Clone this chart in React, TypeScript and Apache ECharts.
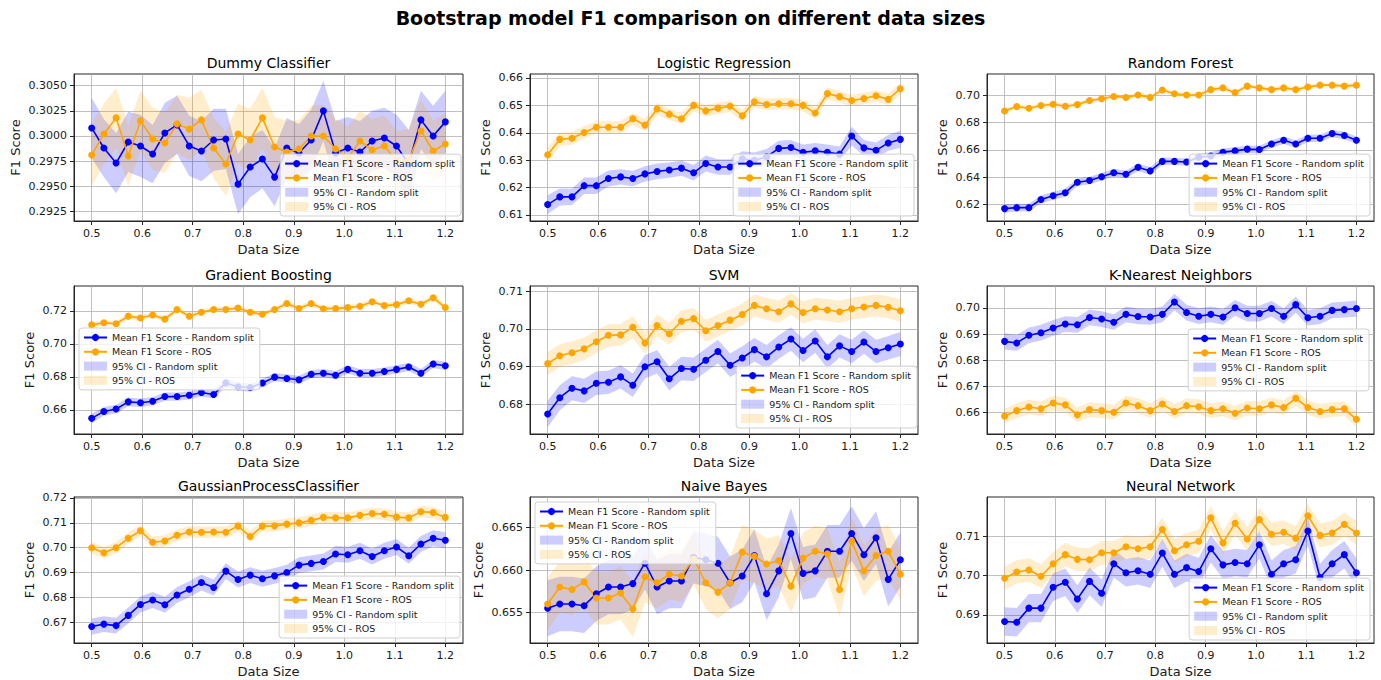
import React, { useEffect, useRef } from 'react';
import * as echarts from 'echarts';

const dataSizes = [0.5, 0.5241, 0.5483, 0.5724, 0.5966, 0.6207, 0.6448, 0.669, 0.6931, 0.7172, 0.7414, 0.7655, 0.7897, 0.8138, 0.8379, 0.8621, 0.8862, 0.9103, 0.9345, 0.9586, 0.9828, 1.0069, 1.031, 1.0552, 1.0793, 1.1034, 1.1276, 1.1517, 1.1759, 1.2];
const xTicks = [0.5, 0.6, 0.7, 0.8, 0.9, 1.0, 1.1, 1.2];

// Dummy Classifier
const dummyRand = [0.3008,0.2988,0.2973,0.2994,0.2990,0.2982,0.3003,0.3011,0.2990,0.2985,0.2996,0.2997,0.2952,0.2969,0.2977,0.2959,0.2988,0.2983,0.2996,0.3025,0.2983,0.2988,0.2984,0.2995,0.2998,0.2990,0.2972,0.3016,0.3000,0.3014];
const dummyRandCI = [0.0030,0.0029,0.0030,0.0030,0.0031,0.0029,0.0030,0.0029,0.0030,0.0030,0.0031,0.0030,0.0030,0.0030,0.0029,0.0029,0.0030,0.0029,0.0030,0.0030,0.0032,0.0031,0.0031,0.0030,0.0030,0.0031,0.0034,0.0029,0.0030,0.0031];
const dummyRos = [0.2981,0.3002,0.3018,0.2980,0.3015,0.2997,0.2993,0.3012,0.3007,0.3016,0.2988,0.2972,0.3002,0.2996,0.3018,0.2989,0.2984,0.2987,0.3000,0.3000,0.2987,0.2978,0.2995,0.2986,0.2990,0.2975,0.2976,0.3005,0.2985,0.2992];
const dummyRosCI = [0.0031,0.0030,0.0030,0.0030,0.0030,0.0031,0.0030,0.0029,0.0031,0.0030,0.0030,0.0032,0.0030,0.0031,0.0030,0.0030,0.0031,0.0029,0.0030,0.0031,0.0030,0.0031,0.0030,0.0031,0.0030,0.0030,0.0031,0.0031,0.0030,0.0031];
const dummyTicks = [0.2925, 0.2950, 0.2975, 0.3000, 0.3025, 0.3050];

// Logistic Regression
const lrRand = [0.6138,0.6166,0.6166,0.6207,0.6207,0.6233,0.6239,0.6233,0.6250,0.6259,0.6264,0.6271,0.6254,0.6288,0.6275,0.6275,0.6305,0.6300,0.6312,0.6343,0.6346,0.6329,0.6334,0.6329,0.6322,0.6388,0.6345,0.6336,0.6363,0.6376];
const lrRandCI = [0.0034,0.0031,0.0030,0.0030,0.0030,0.0029,0.0028,0.0028,0.0028,0.0029,0.0028,0.0028,0.0028,0.0029,0.0028,0.0028,0.0028,0.0028,0.0029,0.0028,0.0028,0.0028,0.0029,0.0028,0.0028,0.0034,0.0029,0.0029,0.0029,0.0031];
const lrRos = [0.6320,0.6376,0.6380,0.6401,0.6420,0.6420,0.6420,0.6451,0.6428,0.6487,0.6468,0.6451,0.6500,0.6480,0.6490,0.6497,0.6462,0.6513,0.6503,0.6506,0.6506,0.6500,0.6472,0.6543,0.6532,0.6518,0.6525,0.6535,0.6522,0.6561];
const lrRosCI = [0.0026,0.0025,0.0024,0.0023,0.0022,0.0022,0.0022,0.0022,0.0022,0.0022,0.0021,0.0021,0.0021,0.0021,0.0021,0.0021,0.0021,0.0022,0.0021,0.0021,0.0021,0.0021,0.0021,0.0022,0.0021,0.0021,0.0021,0.0021,0.0021,0.0022];
const lrTicks = [0.61, 0.62, 0.63, 0.64, 0.65, 0.66];

// Random Forest
const rfRand = [0.6168,0.6175,0.6175,0.6235,0.6262,0.6285,0.6362,0.6375,0.6402,0.6432,0.6420,0.6472,0.6445,0.6515,0.6515,0.6510,0.6545,0.6555,0.6582,0.6592,0.6605,0.6602,0.6643,0.6670,0.6643,0.6685,0.6685,0.6720,0.6705,0.6670];
const rfRandCI = [0.0030,0.0029,0.0029,0.0029,0.0029,0.0029,0.0028,0.0028,0.0028,0.0028,0.0028,0.0028,0.0028,0.0027,0.0027,0.0027,0.0027,0.0027,0.0027,0.0027,0.0027,0.0027,0.0027,0.0027,0.0027,0.0027,0.0027,0.0028,0.0027,0.0027];
const rfRos = [0.6885,0.6918,0.6905,0.6925,0.6935,0.6920,0.6932,0.6962,0.6975,0.6992,0.6985,0.7003,0.6985,0.7040,0.7012,0.7003,0.7003,0.7042,0.7055,0.7020,0.7068,0.7055,0.7042,0.7055,0.7042,0.7062,0.7075,0.7075,0.7068,0.7075];
const rfRosCI = [0.0019,0.0018,0.0018,0.0018,0.0018,0.0018,0.0018,0.0018,0.0018,0.0018,0.0018,0.0018,0.0018,0.0018,0.0018,0.0018,0.0018,0.0018,0.0018,0.0018,0.0018,0.0018,0.0018,0.0018,0.0018,0.0018,0.0018,0.0018,0.0018,0.0019];
const rfTicks = [0.62, 0.64, 0.66, 0.68, 0.70];

// Gradient Boosting
const gbRand = [0.6548,0.6590,0.6605,0.6648,0.6643,0.6652,0.6680,0.6680,0.6688,0.6705,0.6693,0.6763,0.6740,0.6735,0.6762,0.6798,0.6790,0.6782,0.6816,0.6822,0.6810,0.6845,0.6822,0.6822,0.6832,0.6845,0.6860,0.6822,0.6878,0.6867];
const gbRandCI = [0.0028,0.0027,0.0026,0.0026,0.0026,0.0025,0.0025,0.0025,0.0025,0.0025,0.0025,0.0025,0.0025,0.0025,0.0025,0.0025,0.0025,0.0025,0.0025,0.0025,0.0025,0.0025,0.0025,0.0025,0.0025,0.0025,0.0025,0.0025,0.0025,0.0025];
const gbRos = [0.7115,0.7128,0.7122,0.7168,0.7157,0.7175,0.7150,0.7208,0.7168,0.7192,0.7208,0.7208,0.7218,0.7192,0.7180,0.7208,0.7245,0.7215,0.7245,0.7213,0.7215,0.7220,0.7228,0.7255,0.7232,0.7238,0.7262,0.7240,0.7280,0.7220];
const gbRosCI = [0.0017,0.0017,0.0017,0.0017,0.0017,0.0017,0.0017,0.0017,0.0017,0.0017,0.0017,0.0017,0.0017,0.0017,0.0017,0.0017,0.0017,0.0017,0.0017,0.0017,0.0017,0.0017,0.0017,0.0017,0.0017,0.0017,0.0017,0.0017,0.0018,0.0017];
const gbTicks = [0.66, 0.68, 0.70, 0.72];

// SVM
const svmRand = [0.6775,0.6818,0.6843,0.6836,0.6856,0.6859,0.6873,0.6851,0.6900,0.6913,0.6868,0.6895,0.6893,0.6917,0.6940,0.6904,0.6923,0.6945,0.6926,0.6952,0.6973,0.6943,0.6968,0.6926,0.6955,0.6940,0.6965,0.6940,0.6950,0.6960];
const svmRandCI = [0.0035,0.0033,0.0032,0.0032,0.0031,0.0031,0.0031,0.0031,0.0031,0.0031,0.0031,0.0031,0.0031,0.0031,0.0031,0.0031,0.0031,0.0031,0.0031,0.0031,0.0031,0.0031,0.0031,0.0031,0.0031,0.0031,0.0031,0.0031,0.0031,0.0032];
const svmRos = [0.6908,0.6929,0.6937,0.6947,0.6966,0.6983,0.6984,0.7004,0.6963,0.7009,0.6987,0.7020,0.7027,0.6995,0.7009,0.7023,0.7038,0.7062,0.7053,0.7045,0.7066,0.7043,0.7053,0.7050,0.7045,0.7053,0.7058,0.7062,0.7057,0.7048];
const svmRosCI = [0.0030,0.0030,0.0030,0.0030,0.0030,0.0030,0.0029,0.0029,0.0029,0.0029,0.0029,0.0029,0.0029,0.0029,0.0029,0.0029,0.0029,0.0029,0.0029,0.0029,0.0029,0.0029,0.0029,0.0029,0.0029,0.0029,0.0029,0.0029,0.0029,0.0030];
const svmTicks = [0.68, 0.69, 0.70, 0.71];

// K-Nearest Neighbors
const knnRand = [0.6872,0.6866,0.6895,0.6905,0.6923,0.6938,0.6935,0.6963,0.6957,0.6945,0.6975,0.6967,0.6965,0.6975,0.7022,0.6982,0.6968,0.6975,0.6965,0.7000,0.6978,0.6978,0.6997,0.6968,0.7012,0.6962,0.6968,0.6990,0.6993,0.6997];
const knnRandCI = [0.0031,0.0030,0.0030,0.0030,0.0030,0.0030,0.0030,0.0030,0.0030,0.0030,0.0030,0.0030,0.0030,0.0030,0.0031,0.0030,0.0030,0.0030,0.0030,0.0030,0.0030,0.0030,0.0030,0.0030,0.0031,0.0030,0.0030,0.0030,0.0030,0.0031];
const knnRos = [0.6587,0.6608,0.6622,0.6615,0.6637,0.6630,0.6592,0.6612,0.6608,0.6602,0.6637,0.6627,0.6608,0.6633,0.6605,0.6627,0.6623,0.6608,0.6615,0.6598,0.6618,0.6615,0.6630,0.6620,0.6655,0.6620,0.6605,0.6612,0.6615,0.6575];
const knnRosCI = [0.0028,0.0028,0.0028,0.0028,0.0028,0.0028,0.0028,0.0028,0.0028,0.0028,0.0028,0.0028,0.0028,0.0028,0.0028,0.0028,0.0028,0.0028,0.0028,0.0028,0.0028,0.0028,0.0028,0.0028,0.0029,0.0028,0.0028,0.0028,0.0028,0.0028];
const knnTicks = [0.66, 0.67, 0.68, 0.69, 0.70];

// GaussianProcessClassifier
const gpcRand = [0.6683,0.6693,0.6687,0.6728,0.6772,0.6790,0.6771,0.6810,0.6833,0.6860,0.6840,0.6906,0.6872,0.6890,0.6875,0.6887,0.6900,0.6930,0.6937,0.6945,0.6975,0.6972,0.6988,0.6965,0.6988,0.7003,0.6968,0.7015,0.7038,0.7030];
const gpcRandCI = [0.0033,0.0032,0.0032,0.0032,0.0032,0.0032,0.0032,0.0032,0.0032,0.0032,0.0032,0.0032,0.0032,0.0032,0.0032,0.0032,0.0032,0.0032,0.0032,0.0032,0.0032,0.0032,0.0032,0.0032,0.0032,0.0032,0.0032,0.0032,0.0032,0.0032];
const gpcRos = [0.7000,0.6980,0.7000,0.7038,0.7068,0.7022,0.7027,0.7050,0.7063,0.7062,0.7063,0.7062,0.7087,0.7045,0.7087,0.7088,0.7095,0.7100,0.7110,0.7122,0.7120,0.7120,0.7130,0.7138,0.7135,0.7123,0.7120,0.7145,0.7142,0.7122];
const gpcRosCI = [0.0024,0.0023,0.0023,0.0023,0.0023,0.0023,0.0023,0.0023,0.0023,0.0023,0.0023,0.0023,0.0023,0.0023,0.0023,0.0023,0.0023,0.0023,0.0023,0.0023,0.0023,0.0023,0.0023,0.0023,0.0023,0.0023,0.0023,0.0023,0.0023,0.0023];
const gpcTicks = [0.67, 0.68, 0.69, 0.70, 0.71, 0.72];

// Naive Bayes
const nbRand = [0.6555,0.6560,0.6560,0.6558,0.6572,0.6580,0.6580,0.6584,0.6608,0.6580,0.6587,0.6587,0.6615,0.6612,0.6608,0.6585,0.6593,0.6617,0.6572,0.6599,0.6643,0.6596,0.6599,0.6622,0.6622,0.6643,0.6618,0.6638,0.6589,0.6612];
const nbRandCI = [0.0033,0.0032,0.0032,0.0032,0.0032,0.0032,0.0032,0.0031,0.0031,0.0032,0.0032,0.0032,0.0031,0.0031,0.0031,0.0031,0.0031,0.0031,0.0031,0.0031,0.0030,0.0031,0.0031,0.0031,0.0031,0.0032,0.0031,0.0031,0.0032,0.0032];
const nbRos = [0.6560,0.6580,0.6577,0.6586,0.6567,0.6567,0.6573,0.6554,0.6592,0.6585,0.6595,0.6593,0.6613,0.6585,0.6574,0.6585,0.6621,0.6616,0.6607,0.6611,0.6581,0.6614,0.6622,0.6619,0.6577,0.6634,0.6599,0.6617,0.6622,0.6595];
const nbRosCI = [0.0031,0.0030,0.0030,0.0030,0.0031,0.0031,0.0031,0.0033,0.0030,0.0030,0.0030,0.0030,0.0030,0.0031,0.0031,0.0031,0.0032,0.0031,0.0030,0.0030,0.0031,0.0030,0.0030,0.0030,0.0032,0.0029,0.0030,0.0030,0.0031,0.0031];
const nbTicks = [0.655, 0.660, 0.665];

// Neural Network
const nnRand = [0.6883,0.6881,0.6917,0.6917,0.6970,0.6983,0.6940,0.6985,0.6955,0.7030,0.7007,0.7012,0.7003,0.7057,0.7003,0.7020,0.7010,0.7068,0.7027,0.7033,0.7030,0.7078,0.7003,0.7030,0.7040,0.7113,0.6995,0.7030,0.7053,0.7007];
const nnRandCI = [0.0036,0.0036,0.0036,0.0036,0.0035,0.0035,0.0035,0.0035,0.0035,0.0035,0.0035,0.0035,0.0035,0.0035,0.0035,0.0035,0.0035,0.0035,0.0035,0.0035,0.0035,0.0035,0.0035,0.0035,0.0035,0.0036,0.0035,0.0035,0.0035,0.0036];
const nnRos = [0.6993,0.7009,0.7014,0.6998,0.7030,0.7053,0.7041,0.7040,0.7058,0.7058,0.7073,0.7068,0.7073,0.7117,0.7063,0.7078,0.7087,0.7147,0.7083,0.7133,0.7093,0.7142,0.7105,0.7110,0.7095,0.7152,0.7102,0.7108,0.7130,0.7108];
const nnRosCI = [0.0030,0.0030,0.0030,0.0030,0.0030,0.0030,0.0030,0.0030,0.0030,0.0030,0.0030,0.0030,0.0030,0.0030,0.0030,0.0030,0.0030,0.0030,0.0030,0.0030,0.0030,0.0030,0.0030,0.0030,0.0030,0.0030,0.0030,0.0030,0.0030,0.0030];
const nnTicks = [0.69, 0.70, 0.71];

const LBL_RAND = 'Mean F1 Score - Random split';
const LBL_ROS = 'Mean F1 Score - ROS';
const LBL_CI_RAND = '95% CI - Random split';
const LBL_CI_ROS = '95% CI - ROS';

const BLUE = '#0000ff';
const ORANGE = '#ffa500';
const BLUE_FILL = 'rgba(0,0,255,0.2)';
const ORANGE_FILL = 'rgba(255,165,0,0.2)';
const FONT = "'DejaVu Sans', sans-serif";
const TXT = '#1a1a1a';

const panels = [
  { title: 'Dummy Classifier', rand: dummyRand, randCI: dummyRandCI, ros: dummyRos, rosCI: dummyRosCI, ticks: dummyTicks, min: 0.29153, max: 0.30617, dec: 4, nameGap: 52, legend: { right: 920, bottom: 464 } },
  { title: 'Logistic Regression', rand: lrRand, randCI: lrRandCI, ros: lrRos, rosCI: lrRosCI, ticks: lrTicks, min: 0.6078, max: 0.66146, dec: 2, nameGap: 38, legend: { right: 467, bottom: 464 } },
  { title: 'Random Forest', rand: rfRand, randCI: rfRandCI, ros: rfRos, rosCI: rfRosCI, ticks: rfTicks, min: 0.6077, max: 0.7157, dec: 2, nameGap: 38, legend: { right: 11, bottom: 464 } },
  { title: 'Gradient Boosting', rand: gbRand, randCI: gbRandCI, ros: gbRos, rosCI: gbRosCI, ticks: gbTicks, min: 0.6453, max: 0.7351, dec: 2, nameGap: 38, legend: { left: 79, top: 328 } },
  { title: 'SVM', rand: svmRand, randCI: svmRandCI, ros: svmRos, rosCI: svmRosCI, ticks: svmTicks, min: 0.6722, max: 0.71133, dec: 2, nameGap: 38, legend: { right: 464, bottom: 252 } },
  { title: 'K-Nearest Neighbors', rand: knnRand, randCI: knnRandCI, ros: knnRos, rosCI: knnRosCI, ticks: knnTicks, min: 0.6519, max: 0.7083, dec: 2, nameGap: 38, legend: { right: 12, top: 329 } },
  { title: 'GaussianProcessClassifier', rand: gpcRand, randCI: gpcRandCI, ros: gpcRos, rosCI: gpcRosCI, ticks: gpcTicks, min: 0.6617, max: 0.7204, dec: 2, nameGap: 38, legend: { right: 921, bottom: 42 } },
  { title: 'Naive Bayes', rand: nbRand, randCI: nbRandCI, ros: nbRos, rosCI: nbRosCI, ticks: nbTicks, min: 0.65141, max: 0.66859, dec: 3, nameGap: 45, legend: { left: 535, top: 502 } },
  { title: 'Neural Network', rand: nnRand, randCI: nnRandCI, ros: nnRos, rosCI: nnRosCI, ticks: nnTicks, min: 0.68283, max: 0.71996, dec: 2, nameGap: 38, legend: { right: 11, bottom: 40 } },
];

const colLeft = [74, 530, 987];
const colWidth = [389, 388, 387];
const rowTop = [74, 286, 497];
const rowHeight = [147, 148, 146];

function bandSeries(i: number, mean: number[], hw: number[], color: string, name: string) {
  return {
    type: 'custom',
    name,
    xAxisIndex: i,
    yAxisIndex: i,
    z: 1,
    silent: true,
    itemStyle: { color },
    data: dataSizes.map((x, k) => [x, mean[k] - hw[k], mean[k] + hw[k]]),
    encode: { x: 0, y: [1, 2] },
    renderItem: (params: any, api: any) => {
      if (params.dataIndex !== 0) return null;
      const upper = dataSizes.map((x, k) => api.coord([x, mean[k] + hw[k]]));
      const lower = dataSizes.map((x, k) => api.coord([x, mean[k] - hw[k]])).reverse();
      return { type: 'polygon', shape: { points: upper.concat(lower) }, style: { fill: color, stroke: null } };
    },
  };
}

function lineSeries(i: number, values: number[], color: string, name: string) {
  return {
    type: 'line',
    name,
    xAxisIndex: i,
    yAxisIndex: i,
    z: 3,
    data: dataSizes.map((x, k) => [x, values[k]]),
    symbol: 'circle',
    symbolSize: 7,
    showSymbol: true,
    lineStyle: { color, width: 1.6 },
    itemStyle: { color },
    emphasis: { disabled: true },
    silent: true,
  };
}

function buildOption() {
  const grid: any[] = [];
  const xAxis: any[] = [];
  const yAxis: any[] = [];
  const series: any[] = [];
  const legend: any[] = [];
  const graphic: any[] = [];

  graphic.push({
    type: 'text',
    x: 690.5,
    y: 18,
    style: { text: 'Bootstrap model F1 comparison on different data sizes', font: `bold 19px ${FONT}`, fill: '#000', align: 'center', verticalAlign: 'middle' },
  });

  panels.forEach((p, i) => {
    const r = Math.floor(i / 3);
    const c = i % 3;
    grid.push({ left: colLeft[c], top: rowTop[r], width: colWidth[c], height: rowHeight[r], show: true, borderColor: '#262626', borderWidth: 1, backgroundColor: 'transparent', containLabel: false });
    graphic.push({
      type: 'text',
      x: colLeft[c] + colWidth[c] / 2,
      y: rowTop[r] - 11,
      style: { text: p.title, font: `14px ${FONT}`, fill: '#000', align: 'center', verticalAlign: 'middle' },
    });
    xAxis.push({
      type: 'value',
      gridIndex: i,
      min: 0.465,
      max: 1.235,
      name: 'Data Size',
      nameLocation: 'middle',
      nameGap: 22,
      nameTextStyle: { fontFamily: FONT, fontSize: 13, color: TXT },
      axisLine: { show: true, onZero: false, lineStyle: { color: '#262626', width: 1 } },
      axisTick: { show: true, customValues: xTicks, length: 4, lineStyle: { color: '#262626', width: 1 } },
      axisLabel: { customValues: xTicks, formatter: (v: number) => v.toFixed(1), margin: 7, fontFamily: FONT, fontSize: 11, color: TXT },
      splitLine: { show: true, lineStyle: { color: '#b0b0b0', width: 0.8 } },
    });
    yAxis.push({
      type: 'value',
      gridIndex: i,
      min: p.min,
      max: p.max,
      name: 'F1 Score',
      nameLocation: 'middle',
      nameGap: p.nameGap,
      nameRotate: 90,
      nameTextStyle: { fontFamily: FONT, fontSize: 13, color: TXT },
      axisLine: { show: true, onZero: false, lineStyle: { color: '#262626', width: 1 } },
      axisTick: { show: true, customValues: p.ticks, length: 4, lineStyle: { color: '#262626', width: 1 } },
      axisLabel: { customValues: p.ticks, formatter: (v: number) => v.toFixed(p.dec), margin: 7, fontFamily: FONT, fontSize: 11, color: TXT },
      splitLine: { show: true, lineStyle: { color: '#b0b0b0', width: 0.8 } },
    });
    series.push(bandSeries(i, p.rand, p.randCI, BLUE_FILL, LBL_CI_RAND));
    series.push(bandSeries(i, p.ros, p.rosCI, ORANGE_FILL, LBL_CI_ROS));
    series.push(lineSeries(i, p.rand, BLUE, LBL_RAND));
    series.push(lineSeries(i, p.ros, ORANGE, LBL_ROS));
    legend.push({
      ...p.legend,
      orient: 'vertical',
      selectedMode: false,
      data: [
        { name: LBL_RAND },
        { name: LBL_ROS },
        { name: LBL_CI_RAND, icon: 'rect', itemStyle: { color: BLUE_FILL } },
        { name: LBL_CI_ROS, icon: 'rect', itemStyle: { color: ORANGE_FILL } },
      ],
      itemWidth: 23,
      itemHeight: 9,
      itemGap: 3.3,
      textStyle: { fontFamily: FONT, fontSize: 9.5, lineHeight: 11, color: TXT, padding: [0, 0, 0, 0] },
      backgroundColor: 'rgba(255,255,255,0.8)',
      borderColor: '#d0d0d0',
      borderWidth: 1,
      borderRadius: 3,
      padding: [4, 6, 4, 4],
      z: 10,
    });
  });

  return { animation: false, backgroundColor: '#fff', grid, xAxis, yAxis, series, legend, graphic };
}

export default function App() {
  const ref = useRef<HTMLDivElement>(null);
  useEffect(() => {
    const chart = echarts.init(ref.current as HTMLDivElement, null, { renderer: 'svg' });
    chart.setOption(buildOption() as any);
    return () => chart.dispose();
  }, []);
  return <div ref={ref} style={{ position: 'fixed', left: 0, top: 0, width: 1381, height: 680, background: '#fff' }} />;
}
